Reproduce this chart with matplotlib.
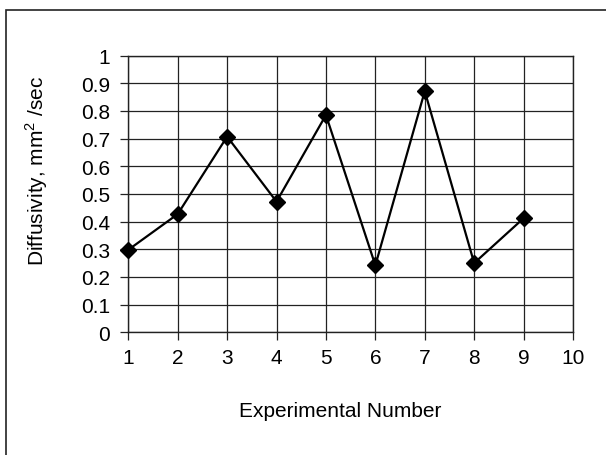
import matplotlib
matplotlib.use("Agg")
import matplotlib.pyplot as plt
from matplotlib.patches import Rectangle

experiment = [1, 2, 3, 4, 5, 6, 7, 8, 9]
diffusivity = [0.298, 0.427, 0.707, 0.472, 0.785, 0.242, 0.871, 0.250, 0.412]
x_ticks = list(range(1, 11))
y_ticks = [0, 0.1, 0.2, 0.3, 0.4, 0.5, 0.6, 0.7, 0.8, 0.9, 1.0]
y_labels = ["0", "0.1", "0.2", "0.3", "0.4", "0.5", "0.6", "0.7", "0.8", "0.9", "1"]

plt.rcParams['font.family'] = ['Liberation Sans', 'DejaVu Sans']
plt.rcParams['mathtext.fontset'] = 'custom'
plt.rcParams['mathtext.rm'] = 'Liberation Sans'

W, H = 606, 456
fig = plt.figure(figsize=(W/100, H/100), dpi=100)
fig.patches.append(Rectangle((6/W, -0.1), 1.2, 1 - 11/H + 0.1, transform=fig.transFigure,
                             fill=False, edgecolor='#222222', linewidth=1.2))

ax = fig.add_axes([128.3/W, 1 - 333.3/H, (573 - 128.3)/W, (333.3 - 56.5)/H])
ax.plot(experiment, diffusivity, color='black', linewidth=1.6, marker='D',
        markersize=8.5, markerfacecolor='black', markeredgecolor='black', zorder=3,
        clip_on=False)

ax.set_xlim(1, 10)
ax.set_ylim(0, 1)
ax.set_xticks(x_ticks)
ax.set_yticks(y_ticks)
ax.set_yticklabels(y_labels)
ax.grid(True, color='#222222', linewidth=0.9)
ax.set_axisbelow(True)
for s in ax.spines.values():
    s.set_color('#222222')
    s.set_linewidth(1.0)
ax.tick_params(axis='both', direction='out', length=5.5, width=0.9, color='#222222',
               labelsize=15)
ax.tick_params(axis='x', pad=6)
ax.tick_params(axis='y', pad=7.5)

fig.text(340/W, 1 - 412/H, "Experimental Number", fontsize=15, ha='center', va='center')
fig.text(37/W, 1 - 171/H, "Diffusivity, mm$^2$ /sec", fontsize=15, ha='center',
         va='center', rotation=90)

fig.savefig("out.png", dpi=100)
